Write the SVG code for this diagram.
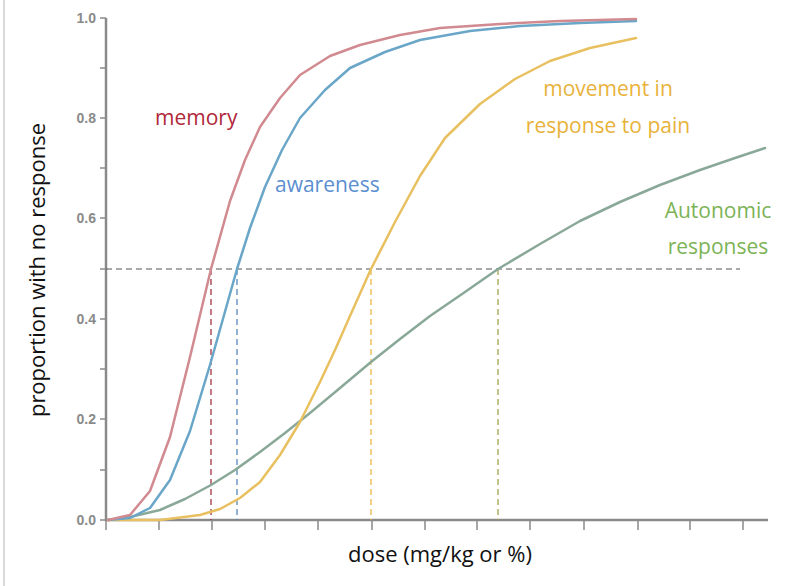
<svg xmlns="http://www.w3.org/2000/svg" width="800" height="586" viewBox="0 0 800 586">
<style>
.ax{stroke:#8a8a8a;stroke-width:2.5;fill:none}
.tk{stroke:#8a8a8a;stroke-width:1.5}
.yl{font-family:"Liberation Sans",Arial,sans-serif;font-size:14px;font-weight:bold;fill:#8a8a8a;text-anchor:end}
.cv{fill:none;stroke-width:2.5;stroke-linejoin:round;stroke-linecap:round}
.lb{font-family:"Open Sans","Liberation Sans",sans-serif;font-size:21px}
.tt{font-family:"Open Sans","Liberation Sans",sans-serif;font-size:22px;fill:#111}
</style>
<rect width="800" height="586" fill="#fff"/>
<line x1="4" y1="0" x2="4" y2="586" stroke="#ccc" stroke-width="1.5"/>
<g id="axes">
<path class="ax" d="M106 18 V520 H768"/>
<g class="tk">
<line x1="100" y1="18" x2="106" y2="18"/><line x1="100" y1="68" x2="106" y2="68"/><line x1="100" y1="118" x2="106" y2="118"/><line x1="100" y1="168" x2="106" y2="168"/><line x1="100" y1="218" x2="106" y2="218"/><line x1="100" y1="269" x2="106" y2="269"/><line x1="100" y1="319" x2="106" y2="319"/><line x1="100" y1="369" x2="106" y2="369"/><line x1="100" y1="419" x2="106" y2="419"/><line x1="100" y1="470" x2="106" y2="470"/><line x1="100" y1="520" x2="106" y2="520"/>
<line x1="106" y1="520" x2="106" y2="530"/><line x1="159" y1="520" x2="159" y2="530"/><line x1="212" y1="520" x2="212" y2="530"/><line x1="265" y1="520" x2="265" y2="530"/><line x1="318" y1="520" x2="318" y2="530"/><line x1="372" y1="520" x2="372" y2="530"/><line x1="425" y1="520" x2="425" y2="530"/><line x1="477" y1="520" x2="477" y2="530"/><line x1="530" y1="520" x2="530" y2="530"/><line x1="584" y1="520" x2="584" y2="530"/><line x1="638" y1="520" x2="638" y2="530"/><line x1="690" y1="520" x2="690" y2="530"/><line x1="743" y1="520" x2="743" y2="530"/>
</g>
<text class="yl" x="96" y="23">1.0</text><text class="yl" x="96" y="123">0.8</text><text class="yl" x="96" y="223">0.6</text><text class="yl" x="96" y="324">0.4</text><text class="yl" x="96" y="424">0.2</text><text class="yl" x="96" y="525">0.0</text>
<text class="tt" x="440" y="562" text-anchor="middle">dose (mg/kg or %)</text>
<text class="tt" transform="translate(45,270) rotate(-90)" text-anchor="middle">proportion with no response</text>
</g>
<g id="guides" stroke-dasharray="6,4" stroke-width="1.2" fill="none">
<line x1="106" y1="269" x2="740" y2="269" stroke="#555"/>
<line x1="211" y1="269" x2="211" y2="520" stroke="#9b2335"/>
<line x1="237" y1="269" x2="237" y2="520" stroke="#4a7fb5"/>
<line x1="371" y1="269" x2="371" y2="520" stroke="#e8b23a"/>
<line x1="498" y1="269" x2="498" y2="520" stroke="#9a9a40"/>
</g>
<g id="autonomic"><polyline class="cv" stroke="#8aa898" points="108,520 130,517 160,510 185,499 211,485 235,470 260,452 285,433 310,413 340,388 371,362 400,339 430,316 465,292 498,269 540,244 580,221 620,202 660,185 700,170 735,158 765,148"/><text class="lb" fill="#7cb356" x="718" y="218" text-anchor="middle">Autonomic</text><text class="lb" fill="#7cb356" x="718" y="254" text-anchor="middle">responses</text></g>
<g id="movement"><polyline class="cv" stroke="#e8c060" points="108,520 160,520 200,515 220,509 240,498 260,482 280,455 300,422 320,382 335,350 350,316 371,269 395,222 420,176 445,138 480,104 515,79 550,61 590,48 636,38"/><text class="lb" fill="#e8b23a" x="608" y="96" text-anchor="middle">movement in</text><text class="lb" fill="#e8b23a" x="608" y="133" text-anchor="middle">response to pain</text></g>
<g id="awareness"><polyline class="cv" stroke="#6aa6c8" points="108,520 130,518 150,508 170,480 190,431 210,365 237,269 250,228 265,187 282,150 300,118 325,90 350,68 385,52 420,40 470,31 520,26 580,23 636,21"/><text class="lb" fill="#5b8fd0" x="275" y="192">awareness</text></g>
<g id="memory"><polyline class="cv" stroke="#d08a90" points="108,520 130,515 150,491 170,437 190,357 211,269 230,201 245,160 260,127 280,98 300,75 330,56 360,45 400,35 440,28 500,24 560,21 636,19"/><text class="lb" fill="#b0283a" x="155" y="125">memory</text></g>
</svg>
